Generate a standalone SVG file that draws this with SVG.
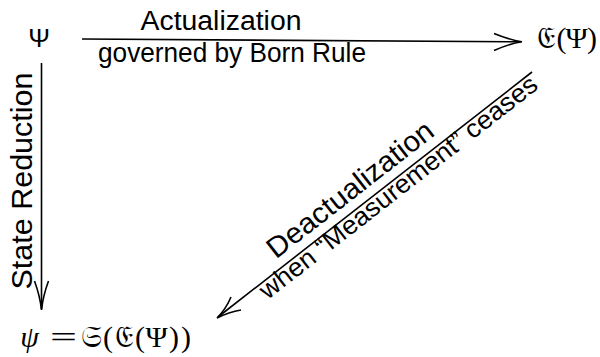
<svg xmlns="http://www.w3.org/2000/svg" width="600" height="357" viewBox="0 0 600 357">
<style>
.lbl{font-family:"Liberation Sans",Arial,sans-serif;fill:#000}
.math{font-family:"Liberation Serif","DejaVu Serif",serif;fill:#000;font-size:30px;text-anchor:middle}
.ln{stroke:#000;stroke-width:1.6;fill:none}
</style>
<rect width="600" height="357" fill="#fff"/>
<g id="connectors">
<path class="ln" d="M82,39 L521,41.8"/>
<path class="ln" d="M494,33.5 Q510,40 522,41.8 Q510,43.5 494,50.5"/>
<path class="ln" d="M41.5,63 L41.5,309"/>
<path class="ln" d="M34.5,281 Q40,296 41.5,310 Q43,296 48.5,281"/>
<path class="ln" d="M532,72 L218,317"/>
<path class="ln" d="M231,297 Q226,309 217,318 Q229,312 241,310"/>
</g>
<g id="label-actualization">
<text class="lbl" x="221" y="30" font-size="27" text-anchor="middle" textLength="161" lengthAdjust="spacingAndGlyphs">Actualization</text>
<text class="lbl" x="232" y="62" font-size="27" text-anchor="middle" textLength="268" lengthAdjust="spacingAndGlyphs">governed by Born Rule</text>
</g>
<g id="label-state-reduction">
<text class="lbl" transform="translate(31.5,181) rotate(-90)" font-size="30" text-anchor="middle" textLength="217" lengthAdjust="spacingAndGlyphs">State Reduction</text>
</g>
<g id="label-deactualization">
<text class="lbl" transform="translate(356,197) rotate(-38)" font-size="29" text-anchor="middle" textLength="203" lengthAdjust="spacingAndGlyphs">Deactualization</text>
<text class="lbl" transform="translate(403.5,194) rotate(-38)" font-size="26" text-anchor="middle" textLength="345" lengthAdjust="spacingAndGlyphs">when “Measurement” ceases</text>
</g>
<g id="node-psi">
<text class="lbl" x="39" y="47" font-size="26" text-anchor="middle">Ψ</text>
</g>
<g id="node-E">
<text class="math" x="545.5" y="48">𝔈</text>
<text class="math" x="561.5" y="48">(</text>
<text class="math" x="576.5" y="48">Ψ</text>
<text class="math" x="592" y="48">)</text>
</g>
<g id="node-S">
<text class="math" x="29.5" y="347" font-style="italic">ψ</text>
<text class="math" x="63.5" y="347" textLength="27" lengthAdjust="spacingAndGlyphs">=</text>
<text class="math" x="91.5" y="347">𝔖</text>
<text class="math" x="108" y="347">(</text>
<text class="math" x="124" y="347">𝔈</text>
<text class="math" x="140" y="347">(</text>
<text class="math" x="156.5" y="347">Ψ</text>
<text class="math" x="174" y="347">)</text>
<text class="math" x="186" y="347">)</text>
</g>
</svg>
